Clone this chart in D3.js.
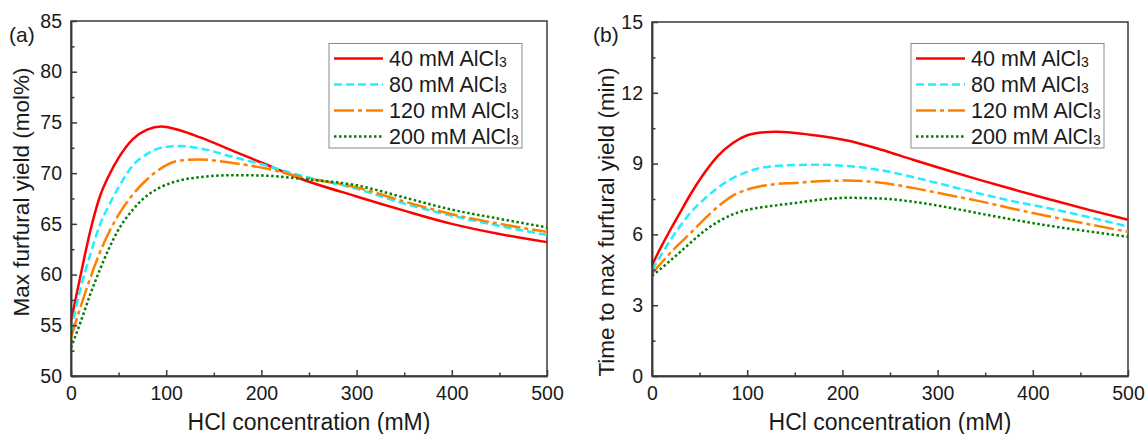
<!DOCTYPE html>
<html><head><meta charset="utf-8">
<script src="https://cdn.jsdelivr.net/npm/d3@7"></script>
<style>body{margin:0;background:#fff}svg{display:block;font-family:"Liberation Sans",Arial,sans-serif}</style>
</head><body><svg id="c" width="1145" height="434"></svg>
<script>
// ---- data ----
const seriesNames = ["40 mM AlCl", "80 mM AlCl", "120 mM AlCl", "200 mM AlCl"];
const xA = [0, 10, 20, 30, 40, 50, 65, 80, 95, 115, 135, 170, 205, 240, 300, 350, 400, 450, 500];
const yieldRed    = [55.4, 59.9, 64.2, 67.6, 69.8, 71.5, 73.35, 74.3, 74.6, 74.2, 73.55, 72.2, 70.85, 69.5, 67.7, 66.3, 65.0, 64.0, 63.2];
const yieldCyan   = [54.5, 58.6, 61.9, 64.8, 66.85, 68.6, 70.75, 71.9, 72.5, 72.67, 72.45, 71.6, 70.75, 69.8, 68.45, 67.0, 65.8, 64.8, 63.9];
const yieldOrange = [53.8, 56.8, 59.6, 62.1, 64.2, 65.9, 67.9, 69.4, 70.5, 71.25, 71.35, 71.0, 70.45, 69.65, 68.6, 67.2, 65.95, 65.0, 64.2];
const yieldGreen  = [52.8, 55.3, 58.0, 60.4, 62.6, 64.45, 66.4, 67.8, 68.65, 69.3, 69.6, 69.8, 69.75, 69.45, 68.8, 67.6, 66.4, 65.5, 64.65];
const xB = [0, 10, 20, 30, 40, 55, 70, 85, 100, 115, 130, 150, 175, 205, 240, 275, 310, 345, 380, 420, 460, 500];
const timeRed    = [4.7, 5.5, 6.25, 6.96, 7.67, 8.6, 9.36, 9.87, 10.2, 10.32, 10.35, 10.3, 10.18, 9.98, 9.6, 9.15, 8.72, 8.3, 7.9, 7.46, 7.03, 6.62];
const timeCyan   = [4.5, 5.15, 5.8, 6.38, 6.9, 7.5, 8.0, 8.39, 8.65, 8.82, 8.9, 8.94, 8.95, 8.9, 8.72, 8.42, 8.07, 7.72, 7.4, 7.08, 6.72, 6.33];
const timeOrange = [4.35, 4.8, 5.25, 5.65, 6.04, 6.65, 7.2, 7.64, 7.9, 8.05, 8.13, 8.18, 8.25, 8.28, 8.19, 7.96, 7.68, 7.4, 7.08, 6.74, 6.42, 6.11];
const timeGreen  = [4.25, 4.57, 4.92, 5.27, 5.63, 6.15, 6.55, 6.85, 7.04, 7.15, 7.23, 7.33, 7.46, 7.55, 7.52, 7.38, 7.15, 6.88, 6.62, 6.35, 6.12, 5.9];
const xTicks = [0, 100, 200, 300, 400, 500];
const yTicksA = [50, 55, 60, 65, 70, 75, 80, 85];
const yTicksB = [0, 3, 6, 9, 12, 15];

// ---- styles ----
const colors = ["#ff0000", "#22eeff", "#ff7f00", "#007f00"];
const dashes = [null, "8,4", "20,4,4,4", "2.5,2.5"];
const axisColor = "#3a3a3a";

const svg = d3.select("#c");

function panel(opt) {
  const x = d3.scaleLinear().domain([0, 500]).range([opt.left, opt.right]);
  const y = d3.scaleLinear().domain(opt.ydom).range([376, opt.top]);
  const g = svg.append("g");
  g.append("rect").attr("x", opt.left).attr("y", opt.top)
    .attr("width", opt.right - opt.left).attr("height", 376 - opt.top)
    .attr("fill", "none").attr("stroke", axisColor).attr("stroke-width", 1.5);
  const line = d3.line().curve(d3.curveMonotoneX);
  opt.series.forEach((s, i) => {
    g.append("path")
      .attr("d", line(opt.xs.map((v, j) => [x(v), y(s[j])])))
      .attr("fill", "none").attr("stroke", colors[i]).attr("stroke-width", 2.5)
      .attr("stroke-dasharray", dashes[i]);
  });
  const xa = g.append("g").attr("transform", "translate(0,376)")
    .call(d3.axisBottom(x).tickValues(xTicks).tickSizeInner(-6).tickSizeOuter(0).tickPadding(10).tickFormat(d3.format("d")));
  const xm = g.append("g").attr("transform", "translate(0,376)")
    .call(d3.axisBottom(x).tickValues([50, 150, 250, 350, 450]).tickSizeInner(-3.5).tickSizeOuter(0).tickFormat(""));
  const ya = g.append("g").attr("transform", `translate(${opt.left},0)`)
    .call(d3.axisLeft(y).tickValues(opt.yticks).tickSizeInner(-6).tickSizeOuter(0).tickPadding(9).tickFormat(d3.format("d")));
  const ym = g.append("g").attr("transform", `translate(${opt.left},0)`)
    .call(d3.axisLeft(y).tickValues(opt.yminor).tickSizeInner(-3.5).tickSizeOuter(0).tickFormat(""));
  [xa, xm, ya, ym].forEach(a => {
    a.selectAll("path").attr("stroke", axisColor).attr("stroke-width", 1.5);
    a.selectAll("line").attr("stroke", axisColor).attr("stroke-width", 1.5);
    a.selectAll("text").attr("font-size", 19.5).attr("fill", "#1a1a1a").attr("font-family", "Liberation Sans, Arial, sans-serif");
  });
  g.append("text").attr("x", (opt.left + opt.right) / 2).attr("y", 430)
    .attr("text-anchor", "middle").attr("font-size", 23).attr("fill", "#1a1a1a").text("HCl concentration (mM)");
  g.append("text").attr("transform", `translate(${opt.ytx},${opt.yty}) rotate(-90)`)
    .attr("text-anchor", "middle").attr("font-size", 22.5).attr("fill", "#1a1a1a").text(opt.ytitle);
  g.append("text").attr("x", opt.labx).attr("y", 42).attr("font-size", 21).attr("fill", "#1a1a1a").text(opt.label);
  const lg = g.append("g");
  lg.append("rect").attr("x", opt.legx).attr("y", 43.5).attr("width", 193).attr("height", 104.5)
    .attr("fill", "#fff").attr("stroke", "#8a8a8a").attr("stroke-width", 1);
  seriesNames.forEach((n, i) => {
    const cy = 58.5 + i * 26;
    lg.append("line").attr("x1", opt.legx + 5).attr("x2", opt.legx + 54).attr("y1", cy).attr("y2", cy)
      .attr("stroke", colors[i]).attr("stroke-width", 2.5).attr("stroke-dasharray", dashes[i]);
    const t = lg.append("text").attr("x", opt.legx + 60).attr("y", cy + 7.5).attr("font-size", 21.5).attr("fill", "#1a1a1a");
    t.append("tspan").text(n);
    t.append("tspan").attr("font-size", 14).attr("dy", 1).text("3");
  });
}

panel({left: 71, right: 547, top: 21, ydom: [50, 85], yticks: yTicksA,
  yminor: [52.5, 57.5, 62.5, 67.5, 72.5, 77.5, 82.5], xs: xA,
  series: [yieldRed, yieldCyan, yieldOrange, yieldGreen],
  ytitle: "Max furfural yield (mol%)", ytx: 29, yty: 192, label: "(a)", labx: 9, legx: 329});
panel({left: 652, right: 1128, top: 22, ydom: [0, 15], yticks: yTicksB,
  yminor: [1.5, 4.5, 7.5, 10.5, 13.5], xs: xB,
  series: [timeRed, timeCyan, timeOrange, timeGreen],
  ytitle: "Time to max furfural yield (min)", ytx: 614, yty: 222, label: "(b)", labx: 593, legx: 911});
</script></body></html>
